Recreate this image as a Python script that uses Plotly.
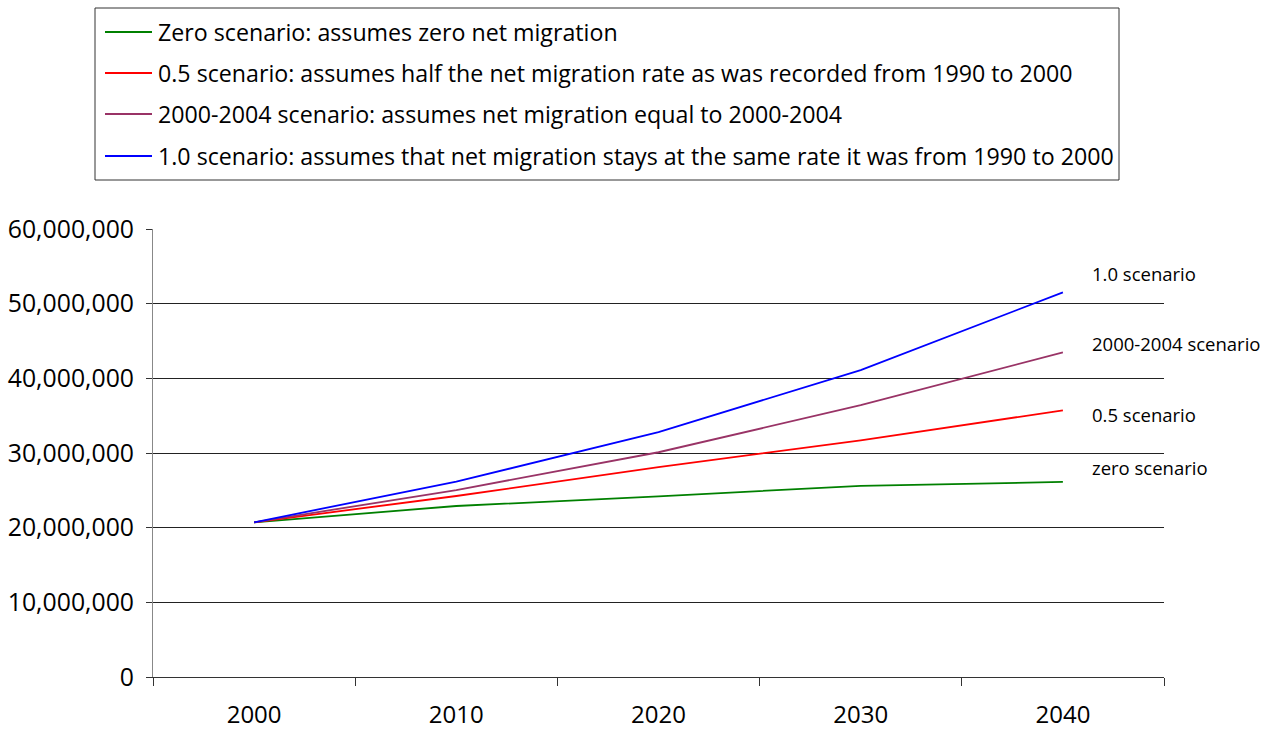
import plotly.graph_objects as go

years = ["2000", "2010", "2020", "2030", "2040"]
zero = [20.72e6, 22.9e6, 24.2e6, 25.6e6, 26.12e6]
half = [20.72e6, 24.24e6, 28.1e6, 31.7e6, 35.71e6]
s0004 = [20.72e6, 25.04e6, 30.1e6, 36.4e6, 43.48e6]
one = [20.72e6, 26.16e6, 32.8e6, 41.1e6, 51.52e6]

legend_names = [
    "Zero scenario: assumes zero net migration",
    "0.5 scenario: assumes half the net migration rate as was recorded from 1990 to 2000",
    "2000-2004 scenario: assumes net migration equal to 2000-2004",
    "1.0 scenario: assumes that net migration stays at the same rate it was from 1990 to 2000",
]
end_labels = ["zero scenario", "0.5 scenario", "2000-2004 scenario", "1.0 scenario"]
label_y = [28.1e6, 35.1e6, 44.6e6, 54.0e6]
colors = ["#008000", "#ff0000", "#993366", "#0000ff"]
series = [zero, half, s0004, one]

FONT = "Open Sans, sans-serif"
W, H = 1285, 729
ML, MR, MT, MB = 153, 121, 229, 52
PW, PH = W - ML - MR, H - MT - MB


def px_x(p):
    return (p - ML) / PW


def px_y(p):
    return (H - MB - p) / PH


fig = go.Figure()
for i, (name, vals, col) in enumerate(zip(legend_names, series, colors)):
    fig.add_trace(go.Scatter(
        x=years, y=vals, mode="lines", name=name,
        line=dict(color=col, width=1.8), showlegend=False,
    ))

for lab, ly in zip(end_labels, label_y):
    fig.add_annotation(x=4, y=ly, xref="x", yref="y", text=lab, showarrow=False,
                       xanchor="left", xshift=27, font=dict(size=18.5, color="black", family=FONT))

# legend box (drawn manually to keep the plot area fixed)
shapes = [dict(type="rect", xref="paper", yref="paper",
               x0=px_x(95), x1=px_x(1119), y0=px_y(180), y1=px_y(8),
               line=dict(color="#333333", width=1), fillcolor="white", layer="above")]
legend_rows = [32, 73, 114, 156]
for name, col, ry in zip(legend_names, colors, legend_rows):
    shapes.append(dict(type="line", xref="paper", yref="paper",
                       x0=px_x(105), x1=px_x(152), y0=px_y(ry), y1=px_y(ry),
                       line=dict(color=col, width=1.8)))
    fig.add_annotation(x=px_x(156), y=px_y(ry), xref="paper", yref="paper", text=name,
                       showarrow=False, xanchor="left", yanchor="middle",
                       font=dict(size=23.2, color="black", family=FONT))

fig.update_layout(
    width=W, height=H,
    margin=dict(l=ML, r=MR, t=MT, b=MB),
    paper_bgcolor="white", plot_bgcolor="white",
    font=dict(family=FONT, size=24, color="black"),
    showlegend=False,
    shapes=shapes,
    xaxis=dict(
        type="category", tickson="boundaries", ticks="outside", ticklen=8,
        range=[-0.5, 4.5], automargin=False,
        tickcolor="#333333", showline=True, linecolor="#333333", showgrid=False,
        tickfont=dict(size=24), ticklabelstandoff=16,
    ),
    yaxis=dict(
        range=[0, 60e6], dtick=10e6, tickformat=",d", automargin=False,
        showgrid=True, gridcolor="#222222", gridwidth=1,
        showline=True, linecolor="#888888", ticks="outside", ticklen=6,
        tickcolor="#333333", zeroline=False, tickfont=dict(size=24.8),
        ticklabelstandoff=7,
    ),
)

fig.write_html("out.html", config={"displayModeBar": False},
               post_script="document.body.style.margin='0px';document.body.style.overflow='hidden';")
